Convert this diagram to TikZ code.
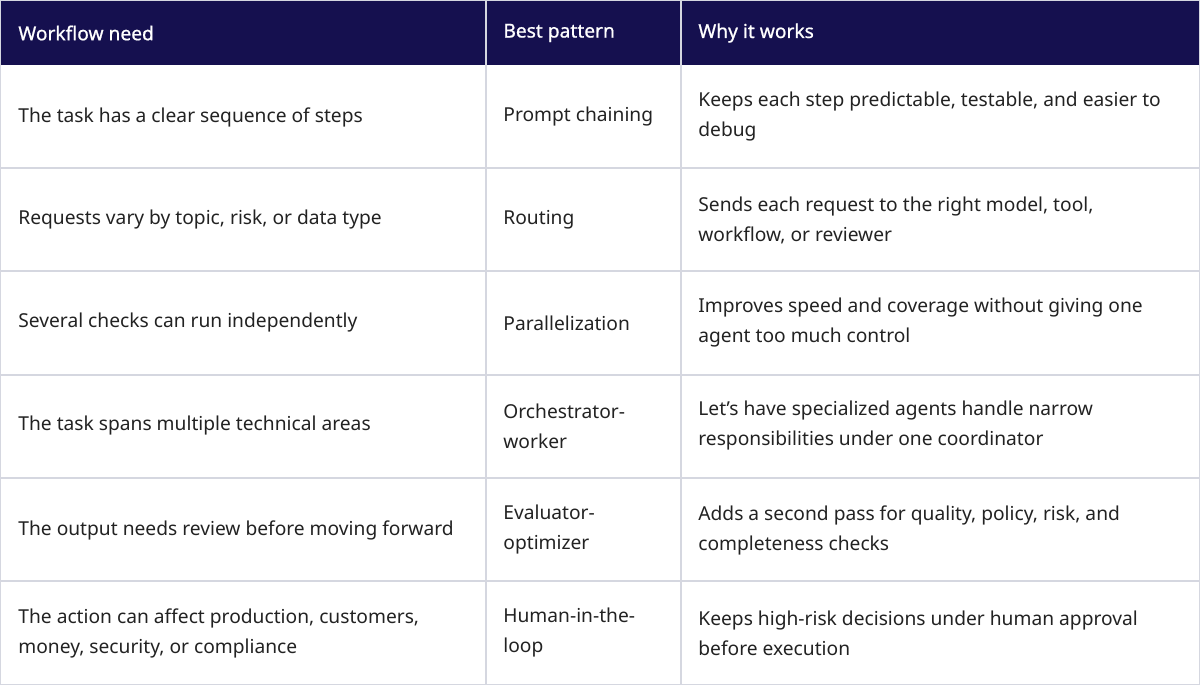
\documentclass[tikz,border=0pt]{standalone}
\usepackage{fontspec}
\setmainfont{Noto Sans}
\newfontfamily\headfont[FakeBold=0.8]{Noto Sans}
\definecolor{navy}{HTML}{15104F}
\definecolor{grid}{HTML}{D5D7E0}
\definecolor{txt}{HTML}{222222}
\begin{document}
\begin{tikzpicture}[x=0.5pt,y=-0.5pt,
  cell/.style={anchor=west,inner sep=0pt,align=left,font=\fontsize{9.6}{15}\selectfont,text=txt},
  head/.style={anchor=west,inner sep=0pt,font=\headfont\fontsize{9.6}{15}\selectfont,text=white}]
\useasboundingbox (0,0) rectangle (1200,685);
\fill[navy] (0,0) rectangle (1200,65);
\foreach \y in {168,271,375,478,581} \draw[grid,line width=0.6pt] (0,\y) -- (1200,\y);
\draw[grid,line width=0.6pt] (486,0) -- (486,685) (681,0) -- (681,685);
\draw[grid,line width=0.8pt] (0.5,0.5) rectangle (1199.5,684.5);
\node[head] (h1) at (18,33) {Workflow need};
\node[head] (h2) at (503,33) {Best pattern};
\node[head] (h3) at (698,33) {Why it works};
\node[cell] (a1) at (18,117) {The task has a clear sequence of steps};
\node[cell] (b1) at (503,117) {Prompt chaining};
\node[cell] (c1) at (698,117) {Keeps each step predictable, testable, and easier to\\debug};
\node[cell] (a2) at (18,220) {Requests vary by topic, risk, or data type};
\node[cell] (b2) at (503,220) {Routing};
\node[cell] (c2) at (698,220) {Sends each request to the right model, tool,\\workflow, or reviewer};
\node[cell] (a3) at (18,323) {Several checks can run independently};
\node[cell] (b3) at (503,323) {Parallelization};
\node[cell] (c3) at (698,323) {Improves speed and coverage without giving one\\agent too much control};
\node[cell] (a4) at (18,426) {The task spans multiple technical areas};
\node[cell] (b4) at (503,426) {Orchestrator-\\worker};
\node[cell] (c4) at (698,426) {Let{\char"27}s have specialized agents handle narrow\\responsibilities under one coordinator};
\node[cell] (a5) at (18,530) {The output needs review before moving forward};
\node[cell] (b5) at (503,530) {Evaluator-\\optimizer};
\node[cell] (c5) at (698,530) {Adds a second pass for quality, policy, risk, and\\completeness checks};
\node[cell] (a6) at (18,633) {The action can affect production, customers,\\money, security, or compliance};
\node[cell] (b6) at (503,633) {Human-in-the-\\loop};
\node[cell] (c6) at (698,633) {Keeps high-risk decisions under human approval\\before execution};
\end{tikzpicture}
\end{document}
